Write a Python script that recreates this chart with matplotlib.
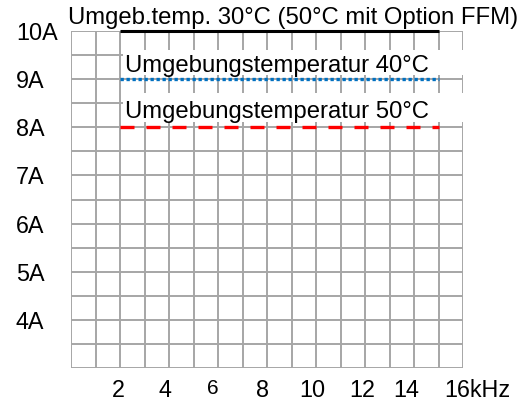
import matplotlib.pyplot as plt
from matplotlib.patches import Rectangle
from matplotlib.transforms import ScaledTranslation

plt.rcParams['font.family'] = ['Liberation Sans', 'DejaVu Sans']

# Derating curves: output current vs switching frequency
freq = [2, 15]
cur_30 = [10, 10]
cur_40 = [9, 9]
cur_50 = [8, 8]

label_30 = 'Umgeb.temp. 30°C (50°C mit Option FFM)'
label_40 = 'Umgebungstemperatur 40°C'
label_50 = 'Umgebungstemperatur 50°C'

x_ticks = [1.92, 3.84, 5.8, 7.8, 9.84, 11.9, 13.7]
x_labels = ['2', '4', '6', '8', '10', '12', '14']
x_unit_pos = 16.6
x_unit_label = '16kHz'
y_ticks = [4, 5, 6, 7, 8, 9, 10]
y_labels = ['4A', '5A', '6A', '7A', '8A', '9A', '10A']

fig = plt.figure(figsize=(5.28, 4.03), dpi=100)
ax = fig.add_axes([71/528, 35/403, 392/528, 337/403])

# grid every 1 kHz / 0.5 A
grid_col = '#a6a6a6'
for gx in range(0, 17):
    ax.axvline(gx, color=grid_col, lw=1.4, zorder=1)
for i in range(15):
    ax.axhline(3 + 0.5 * i, color=grid_col, lw=1.4, zorder=1)
for s in ax.spines.values():
    s.set_visible(False)

ax.plot(freq, cur_30, color='black', lw=2.2, zorder=4, solid_capstyle='butt', clip_on=False)
ax.plot(freq, cur_40, color='#0070c0', lw=2.4, zorder=4, dashes=(1.0, 0.8), clip_on=False)
ax.plot(freq, cur_50, color='#ff0000', lw=2.4, zorder=4, dashes=(4.2, 3.6), clip_on=False)

# white label backgrounds over the grid
ax.add_patch(Rectangle((2.12, 9.09), 14.0, 0.51, facecolor='white', edgecolor='none',
                       zorder=2, clip_on=False))
ax.add_patch(Rectangle((2.12, 8.12), 14.0, 0.59, facecolor='white', edgecolor='none',
                       zorder=2, clip_on=False))

ax.text(-0.12, 10.27, label_30, fontsize=17.2, ha='left', va='center', zorder=3, clip_on=False)
ax.text(2.2, 9.28, label_40, fontsize=17.2, ha='left', va='center', zorder=3)
ax.text(2.2, 8.31, label_50, fontsize=17.2, ha='left', va='center', zorder=3)

ax.set_xticks(x_ticks)
ax.set_xticklabels(x_labels, fontsize=16.8)
ax.xaxis.get_ticklabels()[2].set_fontsize(15)
ax.set_yticks(y_ticks)
ax.set_yticklabels(y_labels, fontsize=16.8, ha='left')
ax.tick_params(axis='x', length=0, pad=8)
ax.tick_params(axis='y', length=0, pad=39.6)
ax.set_xlim(0, 16)
ax.set_ylim(3, 10)

# last frequency label sits past the right edge
unit_tr = ax.get_xaxis_transform() + ScaledTranslation(0, -8/72, fig.dpi_scale_trans)
ax.text(x_unit_pos, 0, x_unit_label, transform=unit_tr, fontsize=16.8,
        ha='center', va='top', clip_on=False)

fig.savefig('out.png', dpi=100)
